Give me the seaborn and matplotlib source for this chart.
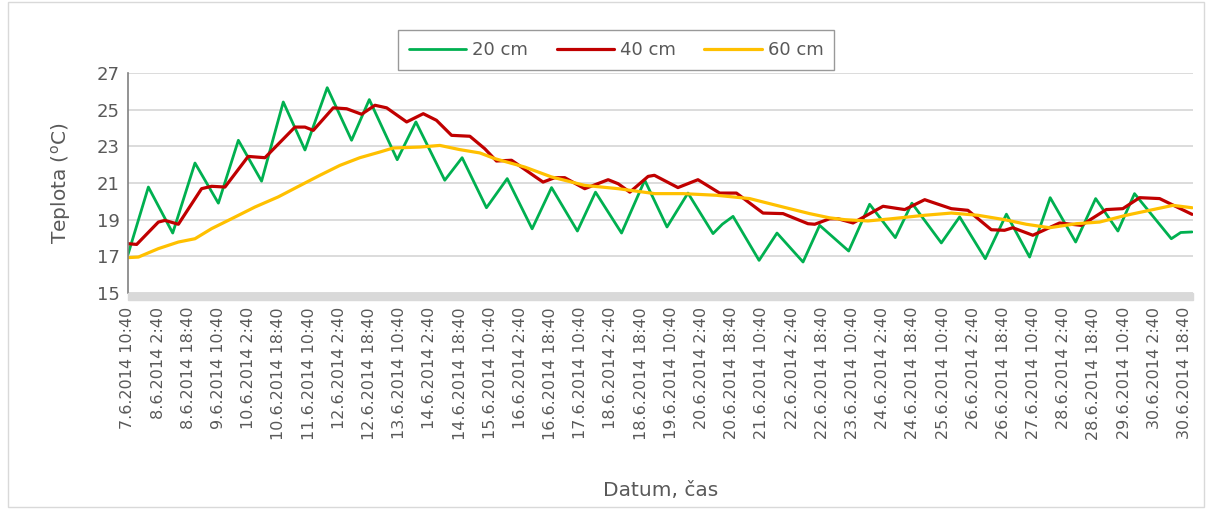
import pandas as pd
import matplotlib
matplotlib.use("Agg")
import matplotlib.pyplot as plt
from matplotlib.patches import Rectangle
import seaborn as sns

# hodiny od 7.6.2014 10:40, teploty
hours_20 = [0, 10.8, 23.7, 35.5, 47.9, 58.5, 70.8, 82.3, 93.8, 105.6, 118.5, 127.9, 142.7, 152.6,
            167.9, 177.1, 190, 201, 214.2, 224.5, 238.2, 247.8, 261.6, 273.9, 285.7, 296.8, 310.1,
            315, 320.7, 334.5, 344, 357.8, 366.6, 382, 393.1, 406.7, 415.5, 431.1, 440.8, 454.4,
            465.6, 477.9, 488.8, 502.3, 512.9, 524.7, 533.5, 553, 558, 564]
temp_20 = [17.1, 20.78, 18.27, 22.09, 19.9, 23.33, 21.1, 25.42, 22.8, 26.2, 23.33, 25.55, 22.27, 24.33,
           21.15, 22.38, 19.65, 21.24, 18.5, 20.75, 18.38, 20.5, 18.27, 21.15, 18.6, 20.45, 18.24,
           18.75, 19.18, 16.78, 18.27, 16.69, 18.69, 17.29, 19.84, 18.02, 19.9, 17.73, 19.15, 16.87,
           19.3, 16.96, 20.2, 17.78, 20.15, 18.38, 20.42, 17.96, 18.3, 18.33]

hours_40 = [0, 4.6, 16.1, 19.6, 26.7, 39, 44.3, 51.4, 63.7, 72.6, 88.5, 93.8, 98.2, 108.8, 115.9,
            123.8, 130.9, 137.1, 147.7, 156.5, 163.5, 171.5, 181.2, 189.1, 195.3, 203.3, 206, 215.6,
            220, 226.2, 231.5, 242.1, 254.5, 259.8, 266, 275.7, 279, 291.5, 302.1, 313.6, 322.5,
            336.6, 347.2, 360.4, 364, 371.9, 376.3, 384.3, 400.2, 411.7, 422.3, 426, 436.4, 445.2,
            457.6, 464.6, 469, 479.6, 493.8, 505.3, 518.5, 527.3, 536.2, 546.8, 564]
temp_40 = [17.69, 17.65, 18.87, 18.96, 18.75, 20.69, 20.82, 20.78, 22.45, 22.38, 24.05, 24.05, 23.87,
           25.1, 25.05, 24.75, 25.24, 25.1, 24.33, 24.78, 24.42, 23.6, 23.55, 22.87, 22.2, 22.24,
           22.05, 21.36, 21.05, 21.29, 21.29, 20.69, 21.18, 20.96, 20.5, 21.36, 21.42, 20.75, 21.18,
           20.45, 20.45, 19.36, 19.33, 18.78, 18.75, 19.05, 19.05, 18.82, 19.73, 19.55, 20.09, 19.96,
           19.6, 19.51, 18.45, 18.42, 18.56, 18.15, 18.82, 18.69, 19.55, 19.6, 20.2, 20.15, 19.29]

hours_60 = [0, 5.5, 16.1, 26.7, 35.5, 44.3, 54.9, 67.3, 79.6, 93.8, 101.7, 112.3, 122.9, 133.5,
            140.6, 154.7, 165.3, 175.9, 186.5, 194.4, 210.3, 224.5, 242.1, 259.8, 279.2, 294.2,
            311.9, 329.5, 347.2, 361.3, 371.9, 379.9, 392.2, 404.6, 422.3, 436.4, 450.5, 464.6,
            476.1, 488.5, 502.6, 515, 529.1, 541.5, 553.9, 564]
temp_60 = [16.93, 16.96, 17.42, 17.78, 17.96, 18.51, 19.05, 19.69, 20.24, 21.0, 21.42, 21.96, 22.38,
           22.69, 22.91, 22.96, 23.05, 22.82, 22.64, 22.33, 21.87, 21.33, 20.87, 20.69, 20.42, 20.42,
           20.33, 20.15, 19.69, 19.33, 19.1, 19.0, 18.93, 19.05, 19.24, 19.36, 19.24, 19.0, 18.75,
           18.56, 18.78, 18.87, 19.24, 19.51, 19.78, 19.65]

series = ["20 cm", "40 cm", "60 cm"]
colors = ["#00B050", "#C00000", "#FFC000"]
widths = [2.0, 2.3, 2.3]

start = pd.Timestamp("2014-06-07 10:40")
tick_hours = list(range(0, 561, 16))

df = pd.concat([
    pd.DataFrame({"hod": hours_20, "teplota": temp_20, "hloubka": "20 cm"}),
    pd.DataFrame({"hod": hours_40, "teplota": temp_40, "hloubka": "40 cm"}),
    pd.DataFrame({"hod": hours_60, "teplota": temp_60, "hloubka": "60 cm"}),
])

sns.set_theme(style="white")
plt.rcParams['font.family'] = ['DejaVu Sans']

fig = plt.figure(figsize=(12.12, 5.09), dpi=100)
ax = fig.add_axes([128 / 1212, 1 - 293 / 509, (1193 - 128) / 1212, 220 / 509])

for name, c, lw in zip(series, colors, widths):
    sns.lineplot(data=df[df["hloubka"] == name], x="hod", y="teplota", color=c,
                 linewidth=lw, label=name, estimator=None, sort=False, ax=ax)
for ln in ax.get_lines():
    ln.set_solid_joinstyle("round")

ax.set_xlim(0, 564.5)
ax.set_ylim(15, 27)
ax.set_yticks(range(15, 28, 2))
ax.grid(axis="y", color="#d9d9d9", linewidth=1.3)
ax.set_axisbelow(True)

labels = []
for h in tick_hours:
    d = start + pd.Timedelta(hours=h)
    labels.append(f"{d.day}.{d.month}.{d.year} {d.hour}:{d.minute:02d}")
ax.set_xticks(tick_hours)
ax.set_xticklabels(labels, rotation=90)
ax.tick_params(axis="x", length=0, pad=10, labelsize=11.5, colors="#595959")
ax.tick_params(axis="y", length=0, pad=6, labelsize=13, colors="#595959")

for s in ["top", "right", "bottom"]:
    ax.spines[s].set_visible(False)
ax.spines["left"].set_color("#808080")
ax.spines["left"].set_linewidth(1.2)

# šedý pruh pod osou x
ax.add_patch(Rectangle((0, -7 / 220), 1, 7 / 220, transform=ax.transAxes,
                       color="#d9d9d9", clip_on=False, zorder=3))

ax.set_xlabel("Datum, čas", fontsize=14.5, color="#595959", labelpad=30)
ax.set_ylabel(r"Teplota ($^{\mathrm{o}}$C)", fontsize=14.5, color="#595959", labelpad=17)

ax.get_legend().remove()
h, l = ax.get_legend_handles_labels()
leg = fig.legend(h, l, loc="center", bbox_to_anchor=(616 / 1212, 1 - 50 / 509), ncol=3,
                 fontsize=13, frameon=True, fancybox=False, handlelength=3.2,
                 columnspacing=1.6, handletextpad=0.3, borderpad=0.6)
leg.get_frame().set_edgecolor("#808080")
leg.get_frame().set_linewidth(1.0)
for t in leg.get_texts():
    t.set_color("#595959")

fig.patches.append(Rectangle((8 / 1212, 2 / 509), 1196 / 1212, 505 / 509, transform=fig.transFigure,
                             fill=False, edgecolor="#d9d9d9", linewidth=1.0))

fig.savefig("out.png", dpi=100)
